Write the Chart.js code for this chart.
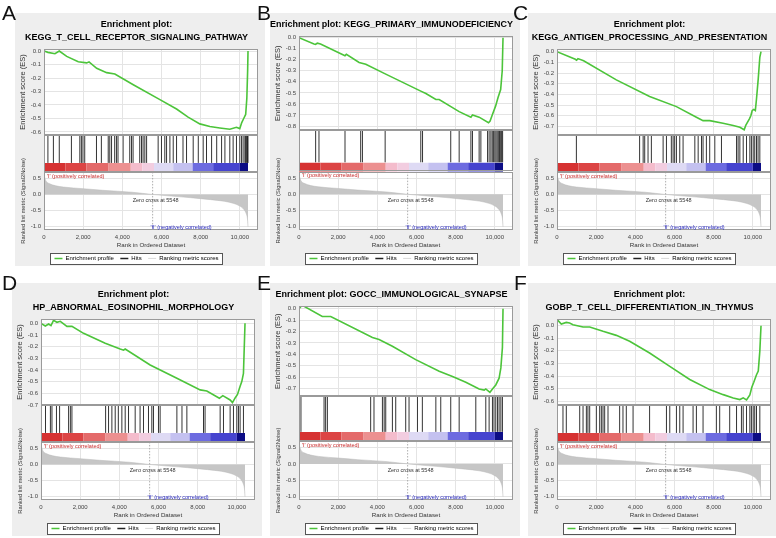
<!DOCTYPE html>
<html>
<head>
<meta charset="utf-8">
<script src="https://cdn.jsdelivr.net/npm/chart.js@4.4.0/dist/chart.umd.min.js"></script>
<style>
  body { margin: 0; background: #fff; width: 776px; height: 538px; overflow: hidden; position: relative; font-family: Arial, "Liberation Sans", sans-serif; }
  .panel { position: absolute; background: #eeeeee; width: 250px; height: 253px; overflow: hidden; }
  .panel canvas { display: block; }
  .tag { position: absolute; font-size: 21px; line-height: 1; color: #111; }
</style>
</head>
<body>
<div class="panel" style="left:15px;top:13px"><canvas id="cA" width="250" height="253"></canvas></div>
<div class="panel" style="left:270px;top:13px"><canvas id="cB" width="250" height="253"></canvas></div>
<div class="panel" style="left:528px;top:13px;width:248px"><canvas id="cC" width="250" height="253"></canvas></div>
<div class="panel" style="left:12px;top:283px"><canvas id="cD" width="250" height="253"></canvas></div>
<div class="panel" style="left:270px;top:283px"><canvas id="cE" width="250" height="253"></canvas></div>
<div class="panel" style="left:528px;top:283px;width:248px"><canvas id="cF" width="250" height="253"></canvas></div>

<div class="tag" style="left:2px;top:2px">A</div>
<div class="tag" style="left:257px;top:2px">B</div>
<div class="tag" style="left:513px;top:2px">C</div>
<div class="tag" style="left:2px;top:272px">D</div>
<div class="tag" style="left:257px;top:272px">E</div>
<div class="tag" style="left:514px;top:272px">F</div>

<script>
Chart.defaults.font.family = 'Arial, "Liberation Sans", sans-serif';

// shared ranked list (same for every panel)
const xMax = 10930;
const xTickValues = [0, 2000, 4000, 6000, 8000, 10000];
const esTickValues = [0, -0.1, -0.2, -0.3, -0.4, -0.5, -0.6, -0.7, -0.8];
const rankTickValues = [0.5, 0, -0.5, -1.0];
const metricRank  = [0, 100, 300, 600, 1000, 2000, 3000, 4500, 5548, 6500, 7500, 8500, 9200, 9700, 10000, 10200, 10330, 10400, 10420];
const metricValue = [0.6, 0.42, 0.33, 0.27, 0.23, 0.18, 0.13, 0.07, 0, -0.05, -0.1, -0.16, -0.21, -0.28, -0.36, -0.46, -0.6, -0.8, -1.0];
const zeroCross = 5548;

// colour bar blocks (rank edges and colours)
const barEdges  = [0, 1100, 2170, 3300, 4430, 5020, 5620, 6600, 7590, 8640, 10000, 10420];
const barColors = ['#d63232', '#dc4444', '#e46a6a', '#ec9090', '#f4bccc', '#f2cde0', '#dedaf4', '#c4c1f0', '#6d6be0', '#4644cf', '#0c0c85'];

const legendNames  = ['Enrichment profile', 'Hits', 'Ranking metric scores'];
const legendColors = ['#4cc43a', '#222222', '#d8d8d8'];

const posLabel  = "'I' (positively correlated)";
const negLabel  = "'II' (negatively correlated)";
const zeroLabel = 'Zero cross at ' + zeroCross;

// A
const esRankA  = [0, 200, 560, 780, 1160, 1750, 2180, 2300, 2690, 3200, 3620, 4560, 5920, 6770, 7360, 7960, 8470, 8980, 9490, 9830, 10000, 10100, 10200, 10300, 10360, 10400, 10420];
const esScoreA = [0, -0.01, -0.02, 0.0, -0.04, -0.08, -0.088, -0.08, -0.128, -0.16, -0.17, -0.25, -0.36, -0.43, -0.49, -0.54, -0.56, -0.57, -0.58, -0.565, -0.575, -0.53, -0.5, -0.47, -0.35, -0.15, 0];
const hitsA = [200, 480, 780, 1400, 1830, 1910, 1990, 2080, 2680, 2930, 3280, 3360, 3450, 3610, 3700, 3780, 4040, 4380, 4470, 4550, 4890, 4980, 5060, 5150, 5240, 5830, 6000, 6170, 6260, 6430, 6600, 6770, 7100, 7280, 7620, 7880, 8130, 8300, 8560, 8820, 9070, 9240, 9490, 9660, 9830, 10000, 10090, 10170, 10260, 10300, 10350, 10390, 10420];

// B
const esRankB  = [0, 767, 850, 937, 1100, 2350, 2420, 3070, 3410, 4430, 6220, 6480, 6990, 7160, 8180, 8780, 8860, 9200, 9680, 9760, 9870, 10040, 10170, 10300, 10380, 10420];
const esScoreB = [0, -0.057, -0.06, -0.05, -0.058, -0.163, -0.15, -0.224, -0.24, -0.33, -0.484, -0.506, -0.56, -0.56, -0.67, -0.72, -0.70, -0.72, -0.77, -0.755, -0.70, -0.62, -0.54, -0.47, -0.3, 0];
const hitsB = [850, 1020, 2350, 3150, 3240, 4400, 6220, 6310, 7750, 8180, 8780, 8860, 9200, 9290, 9630, 9710, 9800, 9870, 9930, 10000, 10060, 10120, 10180, 10240, 10300, 10350, 10400];

// C
const esRankC  = [0, 935, 1000, 1070, 1360, 3030, 4730, 6100, 7120, 7460, 7800, 8480, 9000, 9340, 9560, 9640, 9820, 9900, 9970, 10050, 10130, 10190, 10280, 10360, 10420];
const esScoreC = [0, -0.071, -0.08, -0.065, -0.085, -0.264, -0.42, -0.514, -0.613, -0.645, -0.645, -0.67, -0.69, -0.707, -0.73, -0.69, -0.63, -0.60, -0.55, -0.54, -0.55, -0.44, -0.25, -0.05, 0];
const hitsC = [990, 4220, 4400, 4480, 4650, 4820, 5420, 5590, 5840, 5930, 6010, 6100, 6270, 6440, 7040, 7210, 7380, 7460, 7630, 7800, 8060, 8400, 9170, 9250, 9340, 9510, 9680, 9850, 9930, 10020, 10100, 10190, 10270, 10360];

// D
const esRankD  = [0, 220, 390, 510, 640, 815, 985, 1325, 1580, 2175, 3280, 4045, 4215, 4300, 5575, 6940, 8130, 8470, 9110, 9285, 9660, 9780, 9915, 10035, 10170, 10255, 10340, 10420];
const esScoreD = [0, -0.023, -0.006, -0.02, 0.026, 0.009, 0.017, -0.026, -0.026, -0.086, -0.171, -0.22, -0.23, -0.22, -0.357, -0.471, -0.571, -0.58, -0.643, -0.62, -0.657, -0.68, -0.64, -0.61, -0.54, -0.5, -0.43, 0];
const hitsD = [230, 480, 560, 790, 950, 1410, 1500, 1580, 3300, 3450, 3620, 3790, 3950, 4130, 4300, 4470, 4810, 5060, 5235, 5490, 5660, 5745, 6000, 6085, 6940, 7200, 7450, 8300, 8380, 9150, 9320, 9660, 9830, 10000, 10085, 10170, 10340];

// E
const esRankE  = [0, 100, 170, 1190, 1620, 3750, 4090, 4770, 5960, 7160, 7840, 8520, 9200, 9460, 9540, 9750, 9880, 10050, 10220, 10310, 10390, 10420];
const esScoreE = [0, 0.02, 0.03, -0.068, -0.068, -0.253, -0.27, -0.33, -0.447, -0.55, -0.595, -0.646, -0.706, -0.715, -0.705, -0.735, -0.705, -0.67, -0.61, -0.52, -0.34, 0];
const hitsE = [100, 1280, 1360, 1450, 3660, 3830, 4260, 4350, 4430, 4770, 4940, 5450, 5620, 6050, 6300, 6990, 7240, 7750, 8180, 9030, 9540, 9710, 9880, 9960, 10050, 10140, 10220, 10310, 10390];

// F
const esRankF  = [0, 50, 220, 475, 645, 815, 1330, 1670, 2350, 3030, 3710, 4730, 5760, 6780, 7800, 8490, 9000, 9340, 9510, 9680, 9850, 9950, 10050, 10190, 10280, 10360, 10420];
const esScoreF = [0.035, 0.042, 0.013, 0.026, 0.021, 0.008, -0.011, -0.01, -0.045, -0.077, -0.124, -0.217, -0.323, -0.428, -0.508, -0.548, -0.574, -0.587, -0.574, -0.59, -0.55, -0.49, -0.45, -0.39, -0.36, -0.2, 0];
const hitsF = [305, 475, 1160, 1330, 1500, 1580, 1670, 2010, 2180, 2265, 2350, 2435, 2605, 3200, 3370, 3540, 3885, 4730, 5590, 5760, 6100, 6270, 6440, 6950, 7120, 7460, 8140, 8310, 8820, 9170, 9420, 9510, 9680, 9850, 9930, 10020, 10100, 10190, 10360];

const panels = [
  { id: 'cA', title: ['Enrichment plot:', 'KEGG_T_CELL_RECEPTOR_SIGNALING_PATHWAY'], rank: esRankA, score: esScoreA, hits: hitsA, yMin: -0.622, yMax: 0.015, w: [86, 28, 9, 58] },
  { id: 'cB', title: ['Enrichment plot: KEGG_PRIMARY_IMMUNODEFICIENCY'], rank: esRankB, score: esScoreB, hits: hitsB, yMin: -0.84, yMax: 0.015, w: [94, 32, 9, 58] },
  { id: 'cC', title: ['Enrichment plot:', 'KEGG_ANTIGEN_PROCESSING_AND_PRESENTATION'], rank: esRankC, score: esScoreC, hits: hitsC, yMin: -0.779, yMax: 0.025, w: [86, 28, 9, 58] },
  { id: 'cD', title: ['Enrichment plot:', 'HP_ABNORMAL_EOSINOPHIL_MORPHOLOGY'], rank: esRankD, score: esScoreD, hits: hitsD, yMin: -0.70, yMax: 0.037, w: [86, 28, 9, 58] },
  { id: 'cE', title: ['Enrichment plot: GOCC_IMMUNOLOGICAL_SYNAPSE'], rank: esRankE, score: esScoreE, hits: hitsE, yMin: -0.77, yMax: 0.024, w: [89, 35, 9, 58] },
  { id: 'cF', title: ['Enrichment plot:', 'GOBP_T_CELL_DIFFERENTIATION_IN_THYMUS'], rank: esRankF, score: esScoreF, hits: hitsF, yMin: -0.63, yMax: 0.053, w: [86, 28, 9, 58] }
];

const gridColor = '#e4e4e4';
const frameColor = '#9a9a9a';

// white plot areas, legend box, frames and the small labels
const gseaDecor = {
  id: 'gseaDecor',
  beforeDraw(chart) {
    const { ctx, chartArea: a } = chart;
    ctx.save();
    ctx.fillStyle = '#fff';
    ctx.fillRect(a.left, a.top, a.width, a.height);
    const hb = chart.legend && chart.legend.legendHitBoxes;
    if (hb && hb.length) {
      const l = Math.min(...hb.map(b => b.left)) - 4;
      const r = Math.max(...hb.map(b => b.left + b.width)) + 4;
      const t = hb[0].top - 2.5;
      const h = hb[0].height + 5;
      ctx.fillStyle = '#fff';
      ctx.fillRect(l, t, r - l, h);
      ctx.strokeStyle = '#555';
      ctx.lineWidth = 1;
      ctx.strokeRect(Math.round(l) + 0.5, Math.round(t) + 0.5, Math.round(r - l), Math.round(h));
    }
    ctx.restore();
  },
  beforeDatasetsDraw(chart) {
    const { ctx, chartArea: a, scales: s } = chart;
    ctx.save();
    ctx.fillStyle = '#fff';
    ctx.fillRect(a.left, s.yHits.top, a.width, s.yBar.bottom - s.yHits.top);
    ctx.restore();
  },
  afterDatasetsDraw(chart) {
    const { ctx, chartArea: a, scales: s } = chart;
    ctx.save();
    ctx.strokeStyle = frameColor;
    ctx.lineWidth = 1;
    const L = Math.round(a.left) + 0.5, W = Math.round(a.width) - 1;
    [[s.yES.top, s.yES.bottom], [s.yHits.top, s.yBar.bottom], [s.yRank.top, s.yRank.bottom]].forEach(([t, b]) => {
      ctx.strokeRect(L, Math.round(t) + 0.5, W, Math.round(b - t) - 1);
    });
    ctx.font = '5.5px Arial, "Liberation Sans", sans-serif';
    ctx.textBaseline = 'top';
    ctx.textAlign = 'left';
    ctx.fillStyle = '#c82828';
    ctx.fillText(posLabel, s.x.getPixelForValue(150), s.yRank.top + 1.5);
    ctx.textBaseline = 'middle';
    ctx.textAlign = 'center';
    ctx.fillStyle = '#333';
    ctx.fillText(zeroLabel, s.x.getPixelForValue(5700), s.yRank.getPixelForValue(-0.19));
    ctx.fillStyle = '#2a2ac0';
    ctx.fillText(negLabel, s.x.getPixelForValue(7000), s.yRank.getPixelForValue(-1.02));
    ctx.restore();
  }
};

const fmtES = v => (Math.abs(v) < 1e-9 ? '0.0' : v.toFixed(1));
const tickFont = { size: 6 };
const fixWidth = s => { s.width = 29; };
const setTicks = list => s => { s.ticks = list.filter(v => v >= s.min - 1e-9 && v <= s.max + 1e-9).map(v => ({ value: v })); };

function makeChart(p) {
  const hitPoints = [];
  p.hits.forEach(h => hitPoints.push({ x: h, y: 0 }, { x: h, y: 1 }, { x: h, y: null }));

  new Chart(document.getElementById(p.id), {
    type: 'line',
    data: {
      datasets: [
        {
          label: legendNames[0],
          data: p.rank.map((r, i) => ({ x: r, y: p.score[i] })),
          yAxisID: 'yES',
          borderColor: legendColors[0],
          borderWidth: 1.6,
          pointRadius: 0,
          tension: 0
        },
        {
          label: legendNames[1],
          data: hitPoints,
          yAxisID: 'yHits',
          borderColor: 'rgba(0,0,0,0.8)',
          borderWidth: 1,
          pointRadius: 0,
          spanGaps: false
        },
        {
          label: 'colour bar',
          data: barEdges.map(x => ({ x: x, y: 0.5 })),
          yAxisID: 'yBar',
          borderWidth: c => (c.chart.scales.yBar ? c.chart.scales.yBar.height : 9),
          borderCapStyle: 'butt',
          pointRadius: 0,
          segment: { borderColor: c => barColors[c.p0DataIndex] }
        },
        {
          label: 'zero cross',
          data: [{ x: zeroCross, y: 0.7 }, { x: zeroCross, y: -1.1 }],
          yAxisID: 'yRank',
          borderColor: '#9a9a9a',
          borderWidth: 0.8,
          borderDash: [1.5, 1.5],
          pointRadius: 0
        },
        {
          label: legendNames[2],
          data: metricRank.map((r, i) => ({ x: r, y: metricValue[i] })),
          yAxisID: 'yRank',
          borderColor: '#b9b9b9',
          backgroundColor: '#c6c6c6',
          borderWidth: 0.5,
          fill: 'origin',
          pointRadius: 0,
          cubicInterpolationMode: 'monotone'
        }
      ]
    },
    options: {
      responsive: false,
      animation: false,
      devicePixelRatio: 1,
      layout: { padding: { left: 0, right: 7, top: 0, bottom: -5.4 } },
      plugins: {
        title: {
          display: true,
          text: p.title,
          color: '#000',
          font: { size: 9, weight: 'bold', lineHeight: 13 / 9 },
          padding: { top: 5.5, bottom: 4.5 }
        },
        legend: {
          position: 'bottom',
          labels: {
            font: { size: 6 },
            color: '#222',
            usePointStyle: true,
            pointStyleWidth: 8,
            boxHeight: 7,
            padding: 6.5,
            generateLabels: () => legendNames.map((t, i) => ({
              text: t,
              strokeStyle: legendColors[i],
              fillStyle: legendColors[i],
              lineWidth: i === 2 ? 1 : 1.5,
              pointStyle: 'line',
              hidden: false,
              datasetIndex: i
            }))
          }
        },
        tooltip: { enabled: false }
      },
      scales: {
        x: {
          type: 'linear',
          min: 0,
          max: xMax,
          afterBuildTicks: setTicks(xTickValues),
          afterFit: s => { s.height = 19; },
          ticks: {
            autoSkip: false, font: tickFont, color: '#444', padding: 3.4, maxRotation: 0,
            callback: v => v.toLocaleString('en-US')
          },
          grid: { color: gridColor, drawTicks: false },
          border: { display: false },
          title: { display: true, text: 'Rank in Ordered Dataset', color: '#333', font: { size: 6.2 }, padding: { top: 0.7, bottom: 0 } }
        },
        yES: {
          type: 'linear', position: 'left', stack: 'g', stackWeight: p.w[0], weight: 4,
          min: p.yMin, max: p.yMax,
          afterBuildTicks: setTicks(esTickValues),
          ticks: { autoSkip: false, font: tickFont, color: '#444', padding: 3, callback: fmtES },
          grid: { color: gridColor, drawTicks: false },
          border: { display: false },
          title: { display: true, text: 'Enrichment score (ES)', color: '#333', font: { size: 7.5 }, padding: { top: 3, bottom: 2 } },
          afterFit: fixWidth
        },
        yHits: {
          type: 'linear', position: 'left', stack: 'g', stackWeight: p.w[1], weight: 3,
          min: 0, max: 1,
          ticks: { display: false },
          grid: { display: false },
          border: { display: false },
          afterFit: fixWidth
        },
        yBar: {
          type: 'linear', position: 'left', stack: 'g', stackWeight: p.w[2], weight: 2,
          min: 0, max: 1,
          ticks: { display: false },
          grid: { display: false },
          border: { display: false },
          afterFit: fixWidth
        },
        yRank: {
          type: 'linear', position: 'left', stack: 'g', stackWeight: p.w[3], weight: 1,
          min: -1.1, max: 0.7,
          afterBuildTicks: setTicks(rankTickValues),
          ticks: { autoSkip: false, font: tickFont, color: '#444', padding: 3, callback: fmtES },
          grid: { color: gridColor, drawTicks: false },
          border: { display: false },
          title: { display: true, text: 'Ranked list metric (Signal2Noise)', color: '#333', font: { size: 5.8 }, padding: { top: 4.5, bottom: 2 } },
          afterFit: fixWidth
        }
      }
    },
    plugins: [gseaDecor]
  });
}

panels.forEach(makeChart);
</script>
</body>
</html>
